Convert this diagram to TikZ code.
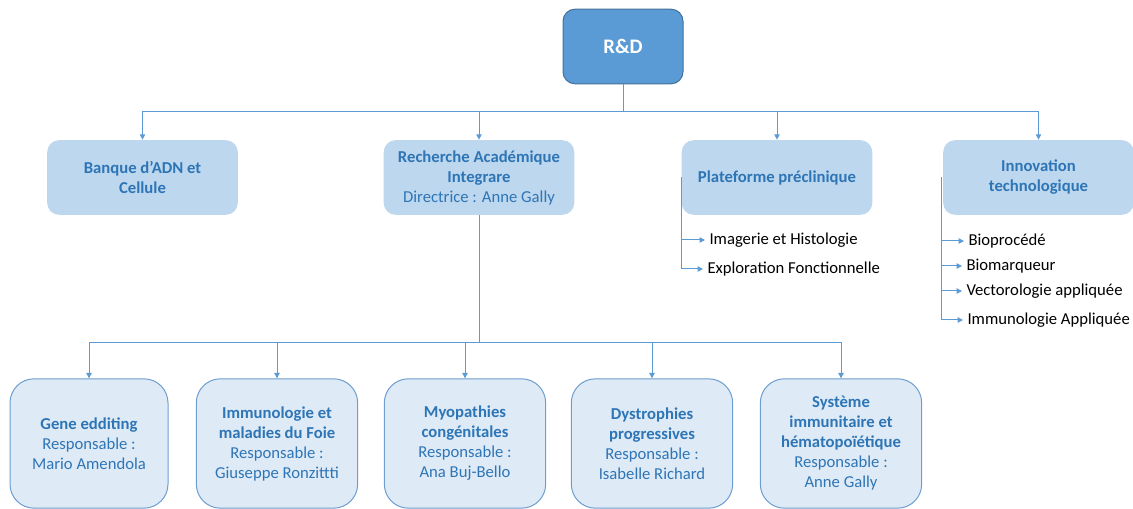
\documentclass[tikz,border=0pt]{standalone}
\usepackage{fontspec}
\setmainfont{Carlito}
\usetikzlibrary{arrows.meta}

\definecolor{rdfill}{RGB}{91,155,213}
\definecolor{rdedge}{RGB}{65,113,156}
\definecolor{deptfill}{RGB}{189,215,238}
\definecolor{teamfill}{RGB}{222,235,247}
\definecolor{teamedge}{RGB}{109,158,207}
\definecolor{linkblue}{RGB}{91,155,213}
\definecolor{labelblue}{RGB}{46,117,182}

\tikzset{every picture/.style={line width=0.75pt}}
\tikzset{
  rdbox/.style={draw=rdedge, fill=rdfill, rounded corners=9pt, text=white,
    font=\bfseries\fontsize{15.5}{18}\selectfont, minimum width=90pt, minimum height=56pt},
  deptbox/.style={fill=deptfill, rounded corners=9pt, text=labelblue, align=center,
    font=\fontsize{12.5}{15}\selectfont, minimum width=143pt, minimum height=56pt},
  teambox/.style={draw=teamedge, fill=teamfill, rounded corners=18pt, text=labelblue, align=center,
    font=\fontsize{12.5}{15}\selectfont, minimum width=121pt, minimum height=97pt},
  subitem/.style={anchor=west, inner sep=3pt, font=\fontsize{12.5}{15}\selectfont},
  link/.style={draw=linkblue, line width=0.75pt},
  linkarrow/.style={link, -{Triangle[length=4pt,width=4pt]}},
}

\begin{document}
\begin{tikzpicture}[x=0.75pt,y=0.75pt,yscale=-1,xscale=1]
	\useasboundingbox (0,0) rectangle (1133,509);
	
	%Top box
	\node [rdbox] (rd) at (623,46.5) {R\&D};
	
	%Second row
	\node [deptbox] (banque) at (142.5,177.5) {\textbf{Banque d’ADN et}\\\textbf{Cellule}};
	\node [deptbox] (recherche) at (479,177.5) {\textbf{Recherche Académique}\\\textbf{Integrare}\\Directrice : Anne Gally};
	\node [deptbox] (plateforme) at (777,177.5) {\textbf{Plateforme préclinique}};
	\node [deptbox] (innovation) at (1038.5,177.5) {\textbf{Innovation}\\\textbf{technologique}};
	
	%Teams
	\node [teambox, minimum width=118.5pt] (gene) at (89,443.5) {\textbf{Gene edditing}\\Responsable :\\Mario Amendola};
	\node [teambox] (immuno) at (277,443.5) {\textbf{Immunologie et}\\\textbf{maladies du Foie}\\Responsable :\\Giuseppe Ronzittti};
	\node [teambox] (myo) at (465,443.5) {\textbf{Myopathies}\\\textbf{congénitales}\\Responsable :\\Ana Buj-Bello};
	\node [teambox] (dys) at (652,443.5) {\textbf{Dystrophies}\\\textbf{progressives}\\Responsable :\\Isabelle Richard};
	\node [teambox] (sys) at (841,443.5) {\textbf{Système}\\\textbf{immunitaire et}\\\textbf{hématopoïétique}\\Responsable :\\Anne Gally};
	
	%Sub items
	\node [subitem] (imagerie) at (705,240) {Imagerie et Histologie};
	\node [subitem] (explo) at (703,269) {Exploration Fonctionnelle};
	\node [subitem] (biopro) at (964,241) {Bioprocédé};
	\node [subitem] (biomarq) at (962,266) {Biomarqueur};
	\node [subitem] (vecto) at (962,291) {Vectorologie appliquée};
	\node [subitem] (immapp) at (963,320) {Immunologie Appliquée};
	
	%Straight Lines
	\coordinate (busA) at (623,112);
	\draw [link] (rd.south) -- (busA);
	\foreach \dept in {banque,recherche,plateforme,innovation}
		\draw [linkarrow] (busA) -| (\dept.north);
	
	\coordinate (busB) at (479,343);
	\draw [link] (recherche.south) -- (busB);
	\foreach \team in {gene,immuno,myo,dys,sys}
		\draw [linkarrow] (busB) -| (\team.north);
	
	\foreach \it in {imagerie,explo}
		\draw [linkarrow] (plateforme.west) |- (\it.west);
	\foreach \it in {biopro,biomarq,vecto,immapp}
		\draw [linkarrow] ([xshift=-0.75pt]innovation.west) |- (\it.west);
	
\end{tikzpicture}
\end{document}
